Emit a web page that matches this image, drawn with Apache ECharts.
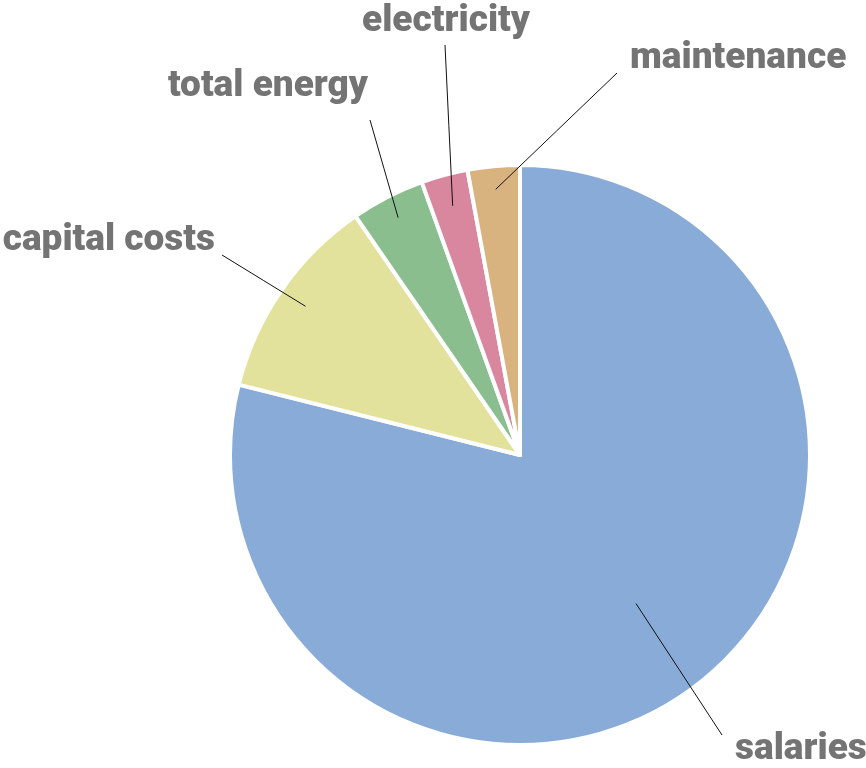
<!DOCTYPE html>
<html>
<head>
<meta charset="utf-8">
<script src="https://cdn.jsdelivr.net/npm/echarts@6/dist/echarts.min.js"></script>
<style>html,body{margin:0;padding:0;background:#fff}#c{width:866px;height:768px}</style>
</head>
<body>
<div id="c"></div>
<script>
const categories = ['salaries', 'capital costs', 'total energy', 'electricity', 'maintenance'];
const values = [78.9, 11.5, 4.1, 2.6, 2.9];
const colors = ['#88abd7', '#e2e29d', '#8bbe8e', '#d9869f', '#d8b27f'];

// label placement (text anchor) and where the leader line ends
const labelAnchors = [
  {x: 735, y: 750, align: 'left',   end: [722, 735], inner: 0.65},
  {x: 215, y: 241, align: 'right',  end: [222, 255], inner: 0.9},
  {x: 368, y: 87,  align: 'right',  end: [370, 120], inner: 0.92},
  {x: 446, y: 22,  align: 'center', end: [445, 45],  inner: 0.89},
  {x: 630, y: 59,  align: 'left',   end: [617, 73],  inner: 0.92}
];

const CX = 520, CY = 455, R = 290;
const total = values.reduce((a, b) => a + b, 0);
const midAngles = [];
let acc = 0;
values.forEach(v => { midAngles.push((acc + v / 2) / total * 2 * Math.PI); acc += v; });

const pieData = categories.map((n, i) => ({name: n, value: values[i], itemStyle: {color: colors[i]}}));

const chart = echarts.init(document.getElementById('c'));
chart.setOption({
  animation: false,
  series: [{
    type: 'pie',
    z: 2,
    center: [CX, CY],
    radius: R,
    startAngle: 90,
    clockwise: true,
    silent: true,
    data: pieData,
    itemStyle: {borderColor: '#fff', borderWidth: 4},
    label: {show: false},
    labelLine: {show: false}
  }, {
    type: 'pie',
    z: 5,
    center: [CX, CY],
    radius: R,
    startAngle: 90,
    clockwise: true,
    silent: true,
    data: categories.map((n, i) => ({name: n, value: values[i]})),
    itemStyle: {color: 'rgba(0,0,0,0)', borderWidth: 0},
    label: {
      show: true,
      position: 'outside',
      formatter: '{b}',
      overflow: 'none',
      fontFamily: 'Roboto, sans-serif',
      fontWeight: 900,
      fontSize: 37,
      color: '#747474'
    },
    labelLine: {show: true, length: 10, length2: 10, lineStyle: {color: '#111', width: 1}},
    labelLayout: function (p) {
      const L = labelAnchors[p.dataIndex];
      const a = midAngles[p.dataIndex];
      const s = [CX + Math.sin(a) * R * L.inner, CY - Math.cos(a) * R * L.inner];
      const m = [(s[0] + L.end[0]) / 2, (s[1] + L.end[1]) / 2];
      return {
        x: L.x, y: L.y, align: L.align, verticalAlign: 'middle',
        labelLinePoints: [s, m, L.end]
      };
    }
  }]
});
</script>
</body>
</html>
